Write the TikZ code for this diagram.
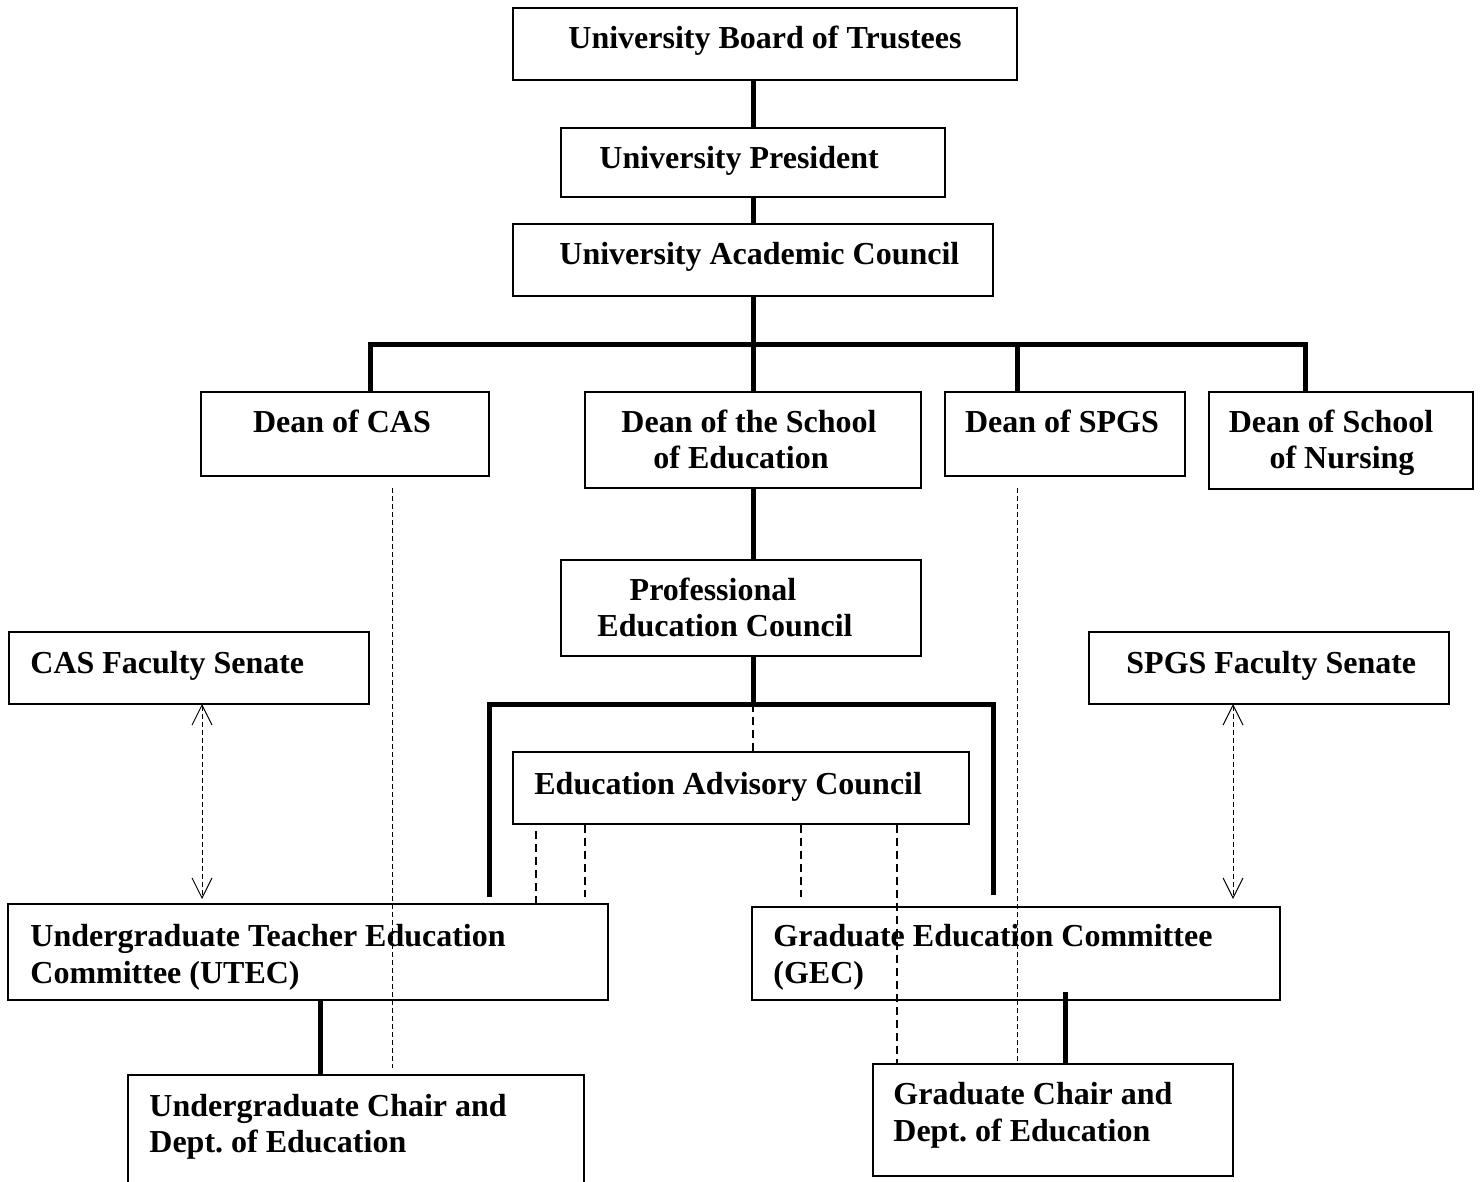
\documentclass[tikz,border=0pt]{standalone}
\usepackage{fontspec}
\setmainfont{Liberation Serif}
\usetikzlibrary{arrows.meta}
\frenchspacing
\begin{document}
\begin{tikzpicture}[x=0.5pt,y=-0.5pt,
  box/.style={draw,line width=1pt,inner sep=0pt,rectangle},
  lbl/.style={font=\fontsize{16}{18}\selectfont\bfseries,inner sep=0pt},
  thickln/.style={line width=2.5pt},
  thindash/.style={line width=0.5pt,dash pattern=on 2.5pt off 1.5pt},
  eacdash/.style={line width=0.75pt,dash pattern=on 4pt off 2.5pt},
  dblarrow/.style={line width=0.5pt,dash pattern=on 2.5pt off 1.5pt,
    {Straight Barb[length=10pt,width=10pt]}-{Straight Barb[length=10pt,width=10pt]}}]
\useasboundingbox (0,0) rectangle (1480,1182);
\clip (0,0) rectangle (1480,1182);
\fill[white] (0,0) rectangle (1480,1182);

% boxes
\node[box,minimum width=252pt,minimum height=36pt] (board) at (765,44) {};
\node[box,minimum width=192pt,minimum height=34.5pt] (pres) at (753,162.5) {};
\node[box,minimum width=240pt,minimum height=36pt] (uac) at (753,260) {};
\node[box,minimum width=144pt,minimum height=42pt] (dcas) at (345,434) {};
\node[box,minimum width=168pt,minimum height=48pt] (dsoe) at (753,440) {};
\node[box,minimum width=120pt,minimum height=42pt] (dspgs) at (1065,434) {};
\node[box,minimum width=132pt,minimum height=48.5pt] (dnur) at (1341,440.5) {};
\node[box,minimum width=180pt,minimum height=48pt] (pec) at (741,608) {};
\node[box,minimum width=180pt,minimum height=36pt] (casfs) at (189,668) {};
\node[box,minimum width=180pt,minimum height=36pt] (spgsfs) at (1269,668) {};
\node[box,minimum width=228pt,minimum height=36pt] (eac) at (741,788) {};
\node[box,minimum width=300pt,minimum height=48pt] (utec) at (308,952) {};
\node[box,minimum width=264pt,minimum height=46.5pt] (gec) at (1016,953.5) {};
\node[box,minimum width=228pt,minimum height=62.5pt] (ugch) at (356,1137.5) {};
\node[box,minimum width=180pt,minimum height=56pt] (grch) at (1053,1120) {};

% texts
\node[lbl,anchor=base] (tBoard) at (765,49) {University Board of Trustees};
\node[lbl,anchor=base west] (tPres) at (599,169) {University President};
\node[lbl,anchor=base west] (tUac) at (559,265) {University Academic Council};
\node[lbl,anchor=base] (tCas) at (342,433) {Dean of CAS};
\node[lbl,anchor=base] (tSoe1) at (749,433) {Dean of the School};
\node[lbl,anchor=base] (tSoe2) at (741,469) {of Education};
\node[lbl,anchor=base] (tSpgs) at (1062,433) {Dean of SPGS};
\node[lbl,anchor=base] (tNur1) at (1331,433) {Dean of School};
\node[lbl,anchor=base] (tNur2) at (1342,469) {of Nursing};
\node[lbl,anchor=base] (tPec1) at (713,601) {Professional};
\node[lbl,anchor=base] (tPec2) at (725,637) {Education Council};
\node[lbl,anchor=base west] (tCasfs) at (30,673) {CAS Faculty Senate};
\node[lbl,anchor=base west] (tSpgsfs) at (1126,673) {SPGS Faculty Senate};
\node[lbl,anchor=base west] (tEac) at (534,794) {Education Advisory Council};
\node[lbl,anchor=base west] (tUtec1) at (30,946) {Undergraduate Teacher Education};
\node[lbl,anchor=base west] (tUtec2) at (30,983) {Committee (UTEC)};
\node[lbl,anchor=base west] (tGec1) at (773,946) {Graduate Education Committee};
\node[lbl,anchor=base west] (tGec2) at (773,983) {(GEC)};
\node[lbl,anchor=base west] (tUg1) at (149,1116) {Undergraduate Chair and};
\node[lbl,anchor=base west] (tUg2) at (149,1152) {Dept. of Education};
\node[lbl,anchor=base west] (tGr1) at (893,1104) {Graduate Chair and};
\node[lbl,anchor=base west] (tGr2) at (893,1141) {Dept. of Education};

% coordinates
\coordinate (busA) at (753,345);
\coordinate (busL) at (370,345);
\coordinate (busS) at (1017,345);
\coordinate (busR) at (1305,345);
\coordinate (busB) at (753,704);
\coordinate (busBL) at (489,704);
\coordinate (busBR) at (993,704);
\coordinate (dropBL) at (489,897);
\coordinate (dropBR) at (993,895);
\coordinate (ea1) at (536,831);
\coordinate (ea2) at (585,897);
\coordinate (ea3) at (801,897);
\coordinate (casTop) at (392,488);
\coordinate (casBot) at (392,1068);
\coordinate (spgsTop) at (1017,488);
\coordinate (arrL1) at (202,704);
\coordinate (arrL2) at (202,899);
\coordinate (arrR1) at (1233,704);
\coordinate (arrR2) at (1233,899);
\coordinate (gecOut) at (1065,992);

% thick connectors
\draw[thickln] (board.south -| pres.north) -- (pres.north);
\draw[thickln] (pres.south) -- (uac.north);
\draw[thickln] (uac.south) -- (busA);
\draw[thickln] (busL |- dcas.north) -- (busL) -- (busR) -- (busR |- dnur.north);
\draw[thickln] (busA) -- (dsoe.north);
\draw[thickln] (busS) -- (busS |- dspgs.north);
\draw[thickln] (dsoe.south) -- (dsoe.south |- pec.north);
\draw[thickln] (pec.south -| busB) -- (busB);
\draw[thickln] (dropBL) -- (busBL) -- (busBR) -- (dropBR);
\draw[thickln] (utec.south -| 320,0) -- (ugch.north -| 320,0);
\draw[thickln] (gecOut) -- (gecOut |- grch.north);

% dashed connectors
\draw[eacdash] (busB) -- (eac.north -| busB);
\draw[eacdash] (ea1) -- (utec.north -| ea1);
\draw[eacdash] (eac.south -| ea2) -- (ea2);
\draw[eacdash] (eac.south -| ea3) -- (ea3);
\draw[eacdash] (eac.south -| 897,0) -- (grch.north -| 897,0);
\draw[thindash] (casTop) -- (casBot);
\draw[thindash] (spgsTop) -- (spgsTop |- grch.north);

% double arrows
\draw[dblarrow] (arrL1) -- (arrL2);
\draw[dblarrow] (arrR1) -- (arrR2);
\end{tikzpicture}
\end{document}
